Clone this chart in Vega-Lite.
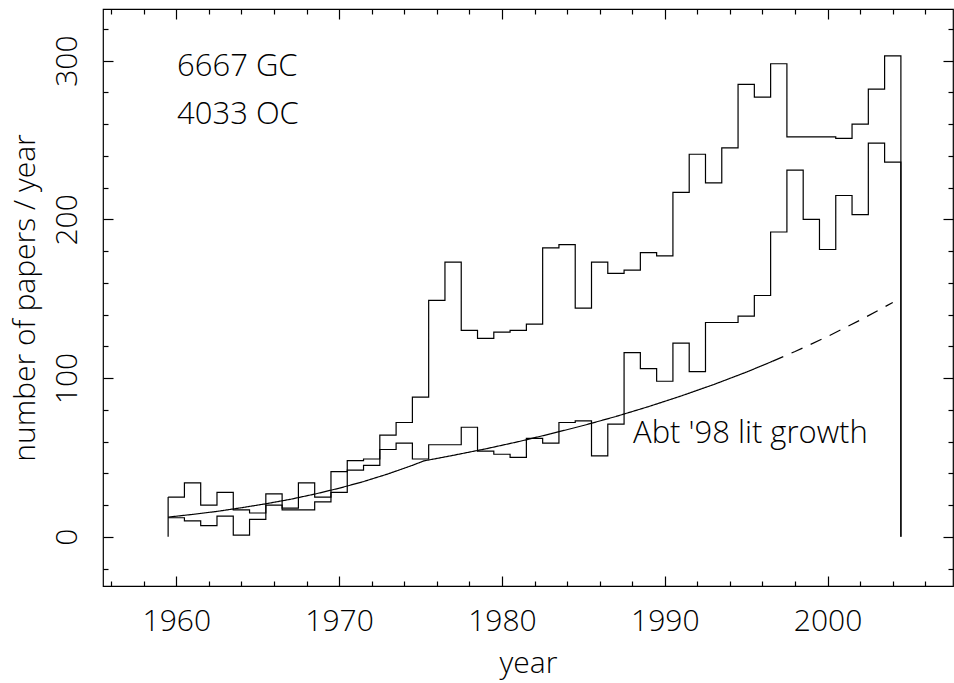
{
  "$schema": "https://vega.github.io/schema/vega-lite/v6.json",
  "width": 850,
  "height": 577,
  "autosize": {"type": "none"},
  "padding": {"left": 103, "top": 9, "right": 1, "bottom": 97},
  "background": "white",
  "config": {
    "view": {"stroke": "black", "strokeWidth": 1.2},
    "font": "Open Sans",
    "axis": {
      "domain": false,
      "grid": false,
      "tickColor": "black",
      "tickWidth": 1.2,
      "labelColor": "black",
      "labelFont": "Open Sans",
      "labelFontWeight": 300,
      "labelFontSize": 30,
      "labelFlush": false,
      "labelOverlap": false,
      "titleFont": "Open Sans",
      "titleFontWeight": 300,
      "titleFontSize": 30,
      "titleColor": "black"
    }
  },
  "datasets": {
    "counts": [
      {"bin_from": 1959.5, "GC": 25, "OC": 12},
      {"bin_from": 1960.5, "GC": 34, "OC": 10},
      {"bin_from": 1961.5, "GC": 20, "OC": 7},
      {"bin_from": 1962.5, "GC": 28, "OC": 13},
      {"bin_from": 1963.5, "GC": 17, "OC": 1},
      {"bin_from": 1964.5, "GC": 15, "OC": 11},
      {"bin_from": 1965.5, "GC": 27, "OC": 20},
      {"bin_from": 1966.5, "GC": 18, "OC": 17},
      {"bin_from": 1967.5, "GC": 34, "OC": 17},
      {"bin_from": 1968.5, "GC": 25, "OC": 22},
      {"bin_from": 1969.5, "GC": 41, "OC": 28},
      {"bin_from": 1970.5, "GC": 48, "OC": 42},
      {"bin_from": 1971.5, "GC": 49, "OC": 45},
      {"bin_from": 1972.5, "GC": 64, "OC": 55},
      {"bin_from": 1973.5, "GC": 72, "OC": 59},
      {"bin_from": 1974.5, "GC": 88, "OC": 49},
      {"bin_from": 1975.5, "GC": 149, "OC": 58},
      {"bin_from": 1976.5, "GC": 173, "OC": 58},
      {"bin_from": 1977.5, "GC": 130, "OC": 69},
      {"bin_from": 1978.5, "GC": 125, "OC": 54},
      {"bin_from": 1979.5, "GC": 129, "OC": 52},
      {"bin_from": 1980.5, "GC": 130, "OC": 50},
      {"bin_from": 1981.5, "GC": 134, "OC": 62},
      {"bin_from": 1982.5, "GC": 182, "OC": 59},
      {"bin_from": 1983.5, "GC": 184, "OC": 72},
      {"bin_from": 1984.5, "GC": 144, "OC": 73},
      {"bin_from": 1985.5, "GC": 173, "OC": 51},
      {"bin_from": 1986.5, "GC": 166, "OC": 71},
      {"bin_from": 1987.5, "GC": 168, "OC": 116},
      {"bin_from": 1988.5, "GC": 179, "OC": 106},
      {"bin_from": 1989.5, "GC": 177, "OC": 98},
      {"bin_from": 1990.5, "GC": 217, "OC": 122},
      {"bin_from": 1991.5, "GC": 241, "OC": 104},
      {"bin_from": 1992.5, "GC": 223, "OC": 135},
      {"bin_from": 1993.5, "GC": 245, "OC": 135},
      {"bin_from": 1994.5, "GC": 285, "OC": 139},
      {"bin_from": 1995.5, "GC": 277, "OC": 152},
      {"bin_from": 1996.5, "GC": 298, "OC": 192},
      {"bin_from": 1997.5, "GC": 252, "OC": 231},
      {"bin_from": 1998.5, "GC": 252, "OC": 200},
      {"bin_from": 1999.5, "GC": 252, "OC": 181},
      {"bin_from": 2000.5, "GC": 251, "OC": 215},
      {"bin_from": 2001.5, "GC": 260, "OC": 203},
      {"bin_from": 2002.5, "GC": 282, "OC": 248},
      {"bin_from": 2003.5, "GC": 303, "OC": 236},
      {"bin_from": 2004.5, "GC": 0, "OC": 0}
    ],
    "edge": [
      {"bin_from": 1959.5, "lo": 0, "hi": 25}
    ],
    "trend": [
      {"t": 1959.5, "v": 12.4, "seg": "fit"},
      {"t": 1961, "v": 14.1, "seg": "fit"},
      {"t": 1962.5, "v": 16.0, "seg": "fit"},
      {"t": 1964, "v": 18.3, "seg": "fit"},
      {"t": 1965.5, "v": 20.8, "seg": "fit"},
      {"t": 1967, "v": 23.6, "seg": "fit"},
      {"t": 1968.5, "v": 26.9, "seg": "fit"},
      {"t": 1970, "v": 30.6, "seg": "fit"},
      {"t": 1971.5, "v": 34.8, "seg": "fit"},
      {"t": 1973, "v": 39.6, "seg": "fit"},
      {"t": 1974.5, "v": 45.0, "seg": "fit"},
      {"t": 1975.2, "v": 47.8, "seg": "fit"},
      {"t": 1977, "v": 51.3, "seg": "fit"},
      {"t": 1979, "v": 55.4, "seg": "fit"},
      {"t": 1981, "v": 59.9, "seg": "fit"},
      {"t": 1983, "v": 64.9, "seg": "fit"},
      {"t": 1985, "v": 70.1, "seg": "fit"},
      {"t": 1987, "v": 75.8, "seg": "fit"},
      {"t": 1989, "v": 82.0, "seg": "fit"},
      {"t": 1991, "v": 88.7, "seg": "fit"},
      {"t": 1993, "v": 95.9, "seg": "fit"},
      {"t": 1995, "v": 103.7, "seg": "fit"},
      {"t": 1996.6, "v": 110.5, "seg": "fit"},
      {"t": 1996.6, "v": 110.5, "seg": "extrapolated"},
      {"t": 1998, "v": 116.7, "seg": "extrapolated"},
      {"t": 2000, "v": 126.2, "seg": "extrapolated"},
      {"t": 2002, "v": 136.5, "seg": "extrapolated"},
      {"t": 2004, "v": 147.6, "seg": "extrapolated"}
    ],
    "notes": [
      {"x": 1960.05, "y": 290, "label": "6667 GC"},
      {"x": 1960.05, "y": 260, "label": "4033 OC"},
      {"x": 1988.05, "y": 59, "label": "Abt '98 lit growth"}
    ]
  },
  "layer": [
    {
      "data": {"name": "counts"},
      "mark": {"type": "line", "interpolate": "step-after", "color": "black", "strokeWidth": 1.2},
      "encoding": {
        "x": {
          "field": "bin_from", "type": "quantitative",
          "scale": {"domain": [1955.5, 2007.7], "nice": false, "zero": false},
          "axis": {
            "orient": "bottom",
            "values": [1956,1958,1960,1962,1964,1966,1968,1970,1972,1974,1976,1978,1980,1982,1984,1986,1988,1990,1992,1994,1996,1998,2000,2002,2004,2006],
            "format": "d",
            "labelExpr": "datum.value % 10 === 0 ? datum.label : ''",
            "tickSize": {"condition": {"test": "datum.value % 10 === 0", "value": -10}, "value": -5},
            "labelPadding": 30,
            "title": "year",
            "titlePadding": 7
          }
        },
        "y": {
          "field": "GC", "type": "quantitative",
          "scale": {"domain": [-31, 332.5], "nice": false, "zero": false},
          "axis": {
            "orient": "left",
            "values": [-20,0,20,40,60,80,100,120,140,160,180,200,220,240,260,280,300,320],
            "format": "d",
            "labelExpr": "datum.value % 100 === 0 ? datum.label : ''",
            "tickSize": {"condition": {"test": "datum.value % 100 === 0", "value": -10}, "value": -5},
            "labelAngle": 270,
            "labelAlign": "center",
            "labelBaseline": "bottom",
            "labelPadding": 31,
            "title": "number of papers / year",
            "titleFontSize": 30,
            "titlePadding": 7
          }
        }
      }
    },
    {
      "data": {"name": "counts"},
      "mark": {"type": "line", "interpolate": "step-after", "color": "black", "strokeWidth": 1.2},
      "encoding": {
        "x": {
          "field": "bin_from", "type": "quantitative",
          "scale": {"domain": [1955.5, 2007.7], "nice": false, "zero": false},
          "axis": {
            "orient": "top",
            "values": [1956,1958,1960,1962,1964,1966,1968,1970,1972,1974,1976,1978,1980,1982,1984,1986,1988,1990,1992,1994,1996,1998,2000,2002,2004,2006],
            "labels": false,
            "tickSize": {"condition": {"test": "datum.value % 10 === 0", "value": -10}, "value": -5},
            "title": null
          }
        },
        "y": {
          "field": "OC", "type": "quantitative",
          "scale": {"domain": [-31, 332.5], "nice": false, "zero": false},
          "axis": {
            "orient": "right",
            "values": [-20,0,20,40,60,80,100,120,140,160,180,200,220,240,260,280,300,320],
            "labels": false,
            "tickSize": {"condition": {"test": "datum.value % 100 === 0", "value": -10}, "value": -5},
            "title": null
          }
        }
      }
    },
    {
      "data": {"name": "edge"},
      "mark": {"type": "rule", "color": "black", "strokeWidth": 1.2},
      "encoding": {
        "x": {"field": "bin_from", "type": "quantitative", "scale": {"domain": [1955.5, 2007.7], "nice": false, "zero": false}, "axis": null},
        "y": {"field": "lo", "type": "quantitative", "scale": {"domain": [-31, 332.5], "nice": false, "zero": false}, "axis": null},
        "y2": {"field": "hi"}
      }
    },
    {
      "data": {"name": "trend"},
      "mark": {"type": "line", "color": "black", "strokeWidth": 1.2},
      "encoding": {
        "x": {"field": "t", "type": "quantitative", "scale": {"domain": [1955.5, 2007.7], "nice": false, "zero": false}, "axis": null},
        "y": {"field": "v", "type": "quantitative", "scale": {"domain": [-31, 332.5], "nice": false, "zero": false}, "axis": null},
        "strokeDash": {"field": "seg", "type": "nominal", "scale": {"domain": ["fit", "extrapolated"], "range": [[1, 0], [12, 9]]}, "legend": null}
      }
    },
    {
      "data": {"name": "notes"},
      "mark": {"type": "text", "align": "left", "baseline": "alphabetic", "font": "Open Sans", "fontSize": 31, "fontWeight": 300, "color": "black"},
      "encoding": {
        "x": {"field": "x", "type": "quantitative", "scale": {"domain": [1955.5, 2007.7], "nice": false, "zero": false}, "axis": null},
        "y": {"field": "y", "type": "quantitative", "scale": {"domain": [-31, 332.5], "nice": false, "zero": false}, "axis": null},
        "text": {"field": "label"}
      }
    }
  ],
  "resolve": {"axis": {"x": "independent", "y": "independent"}}
}
